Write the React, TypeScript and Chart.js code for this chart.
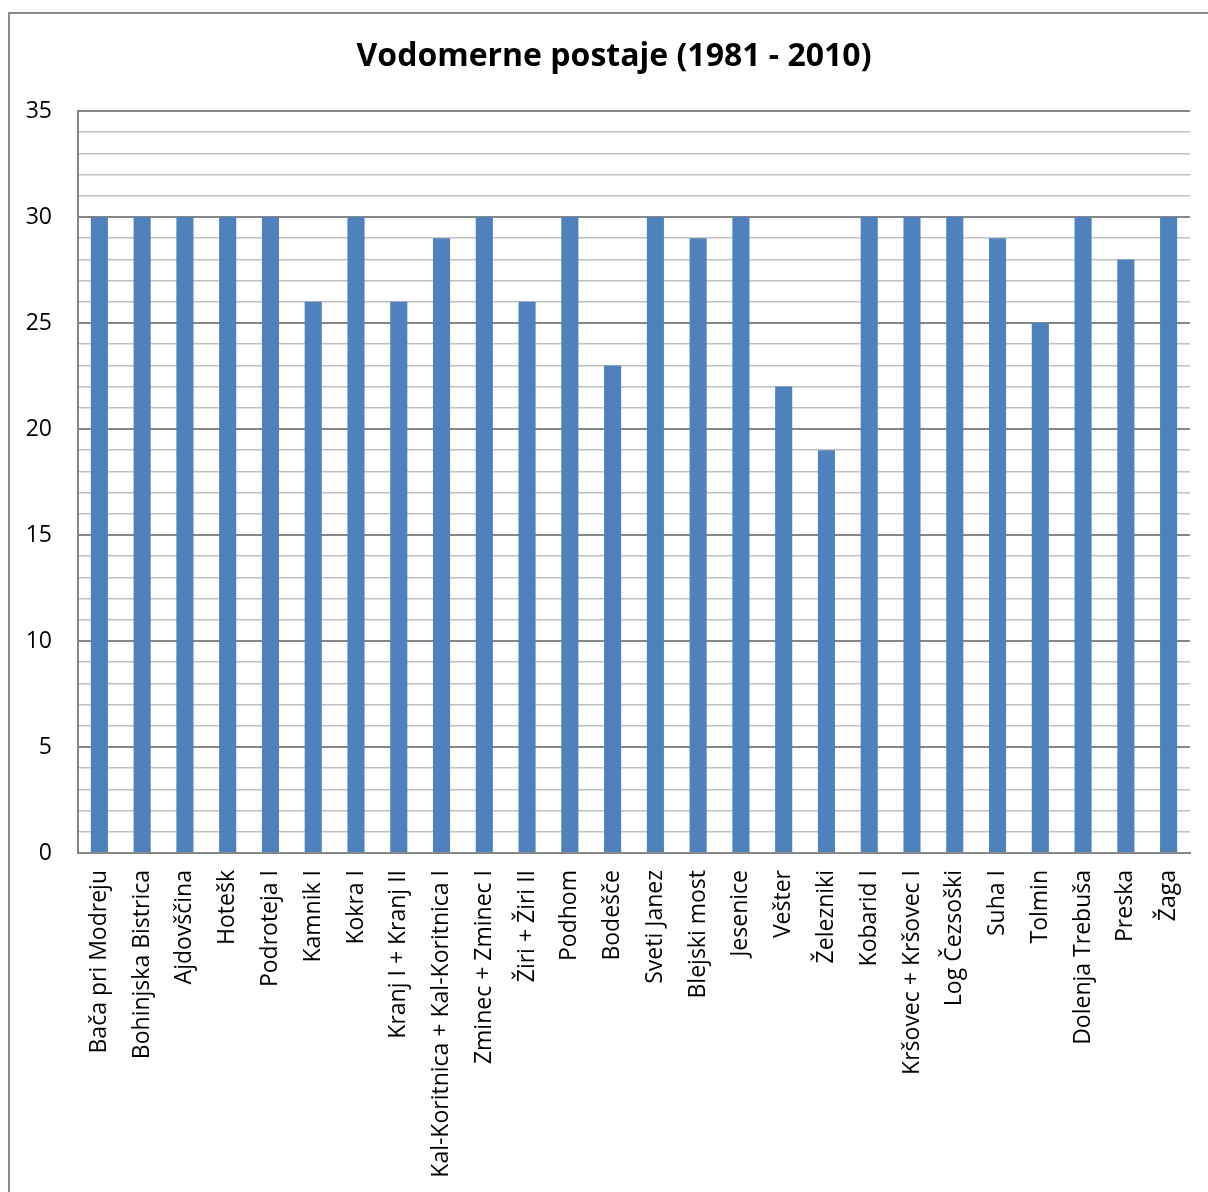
import React, { useEffect, useRef } from "react";
import { Chart, registerables } from "chart.js";

Chart.register(...registerables);

const stations: string[] = [
  "Bača pri Modreju",
  "Bohinjska Bistrica",
  "Ajdovščina",
  "Hotešk",
  "Podroteja I",
  "Kamnik I",
  "Kokra I",
  "Kranj I + Kranj II",
  "Kal-Koritnica + Kal-Koritnica I",
  "Zminec + Zminec I",
  "Žiri + Žiri II",
  "Podhom",
  "Bodešče",
  "Sveti Janez",
  "Blejski most",
  "Jesenice",
  "Vešter",
  "Železniki",
  "Kobarid I",
  "Kršovec + Kršovec I",
  "Log Čezsoški",
  "Suha I",
  "Tolmin",
  "Dolenja Trebuša",
  "Preska",
  "Žaga",
];

const years: number[] = [
  30, 30, 30, 30, 30, 26, 30, 26, 29, 30, 26, 30, 23, 30, 29, 30, 22, 19, 30, 30, 30, 29, 25, 30, 28, 30,
];

const yTickLabels: number[] = [0, 5, 10, 15, 20, 25, 30, 35];

const title = "Vodomerne postaje (1981 - 2010)";

const W = 1208;
const H = 1192;
const FONT = "'Open Sans', 'DejaVu Sans', sans-serif";

// white page plus the frame running off the right and bottom edges
const framePlugin = {
  id: "frame",
  beforeDraw(chart: Chart) {
    const ctx = chart.ctx;
    ctx.save();
    ctx.fillStyle = "#ffffff";
    ctx.fillRect(0, 0, chart.width, chart.height);
    ctx.strokeStyle = "#8a8a8a";
    ctx.lineWidth = 2;
    ctx.beginPath();
    ctx.moveTo(9, chart.height + 2);
    ctx.lineTo(9, 13);
    ctx.lineTo(chart.width + 2, 13);
    ctx.stroke();
    ctx.restore();
  },
};

// heading centred over the framed area
const headingPlugin = {
  id: "heading",
  afterDraw(chart: Chart) {
    const ctx = chart.ctx;
    ctx.save();
    ctx.fillStyle = "#000000";
    ctx.font = `bold 32px ${FONT}`;
    ctx.textAlign = "center";
    ctx.textBaseline = "middle";
    ctx.fillText(title, 614, 57);
    ctx.restore();
  },
};

export default function App() {
  const ref = useRef<HTMLCanvasElement | null>(null);

  useEffect(() => {
    if (!ref.current) return;
    const chart = new Chart(ref.current, {
      type: "bar",
      data: {
        labels: stations,
        datasets: [
          {
            data: years,
            backgroundColor: "#4f81bd",
            borderWidth: 0,
            categoryPercentage: 1,
            barPercentage: 0.4,
          },
        ],
      },
      options: {
        responsive: false,
        animation: false,
        devicePixelRatio: 1,
        layout: { padding: { left: 0, right: 18, top: 111, bottom: 0 } },
        plugins: {
          legend: { display: false },
          tooltip: { enabled: false },
          title: { display: false },
        },
        scales: {
          x: {
            grid: { display: false, drawTicks: false },
            border: { display: true, color: "#868686", width: 2 },
            ticks: {
              color: "#000000",
              font: { family: FONT, size: 23 },
              minRotation: 90,
              maxRotation: 90,
              autoSkip: false,
              padding: 17,
            },
            afterFit(scale: any) {
              scale.height = H - 853;
              scale.paddingLeft = 0;
              scale.paddingRight = 0;
            },
          },
          y: {
            min: 0,
            max: 35,
            grid: {
              drawTicks: false,
              color: (c: any) =>
                yTickLabels.includes(c.tick?.value) ? "#868686" : "#c0c0c0",
              lineWidth: (c: any) => (yTickLabels.includes(c.tick?.value) ? 2 : 1.5),
            },
            border: { display: true, color: "#868686", width: 2 },
            ticks: {
              stepSize: 1,
              autoSkip: false,
              color: "#000000",
              font: { family: FONT, size: 23 },
              padding: 26,
              callback: (v: any) => (yTickLabels.includes(Number(v)) ? String(v) : ""),
            },
            afterFit(scale: any) {
              scale.width = 78;
            },
          },
        },
      },
      plugins: [framePlugin, headingPlugin],
    });
    return () => chart.destroy();
  }, []);

  return (
    <div style={{ position: "fixed", left: 0, top: 0, width: W, height: H, background: "#fff" }}>
      <canvas ref={ref} width={W} height={H} style={{ display: "block", width: W, height: H }} />
    </div>
  );
}
